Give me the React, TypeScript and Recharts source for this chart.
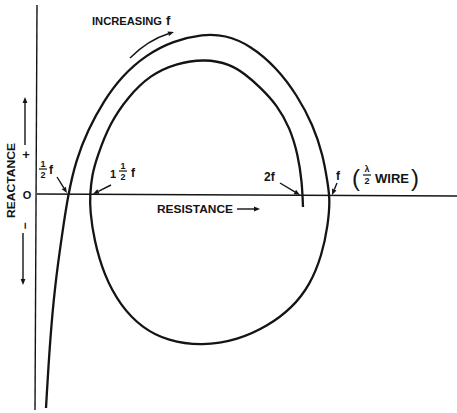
import { LineChart, Line, XAxis, YAxis, ReferenceLine } from "recharts";

// impedance spiral of a wire (arbitrary units)
const resistance = [
  9, 13, 18, 25, 31, 39, 51, 66, 85, 109, 136, 166, 188, 213, 240, 260, 276,
  286, 291, 293, 291, 285, 273, 255, 231, 201, 165, 131, 105, 83, 67, 57, 53,
  53, 55, 60, 73, 91, 113, 140, 168, 193, 208, 223, 240, 253, 261, 265, 266,
];
const reactance = [
  -213, -145, -90, -40, 0, 35, 65, 93, 119, 140, 154, 161, 160, 150, 127, 100,
  70, 40, 10, -5, -30, -60, -90, -113, -131, -145, -151, -146, -133, -110, -80,
  -45, -15, 0, 20, 38, 72, 98, 120, 132, 136, 131, 121, 108, 90, 67, 40, 13,
  -12,
];

const spiral = resistance.map((r, i) => ({ r, x: reactance[i] }));

const INK = "#141414";
const FONT = "'Liberation Sans', Arial, sans-serif";

function Arrow({ x1, y1, x2, y2, cx, cy }: { x1: number; y1: number; x2: number; y2: number; cx?: number; cy?: number }) {
  const fx = cx ?? x1;
  const fy = cy ?? y1;
  const a = Math.atan2(y2 - fy, x2 - fx);
  const len = 6;
  const w = 2.4;
  const bx = x2 - len * Math.cos(a);
  const by = y2 - len * Math.sin(a);
  const pts = `${x2},${y2} ${bx + w * Math.sin(a)},${by - w * Math.cos(a)} ${bx - w * Math.sin(a)},${by + w * Math.cos(a)}`;
  const d = cx !== undefined ? `M${x1},${y1} Q${cx},${cy} ${bx},${by}` : `M${x1},${y1} L${bx},${by}`;
  return (
    <g>
      <path d={d} stroke={INK} strokeWidth={1.4} fill="none" />
      <polygon points={pts} fill={INK} />
    </g>
  );
}

function Half({ x, y, size = 9 }: { x: number; y: number; size?: number }) {
  return (
    <g fontFamily={FONT} fontWeight="bold" fontSize={size} fill={INK} textAnchor="middle">
      <text x={x} y={y - 2}>1</text>
      <line x1={x - 4} x2={x + 4} y1={y} y2={y} stroke={INK} strokeWidth={1.2} />
      <text x={x} y={y + size}>2</text>
    </g>
  );
}

function Notes() {
  return (
    <svg width={457} height={413} style={{ position: "absolute", left: 0, top: 0, pointerEvents: "none" }}>
      <g fontFamily={FONT} fontWeight="bold" fill={INK}>
        <text x={92} y={25} fontSize={11} textLength={70} lengthAdjust="spacingAndGlyphs">INCREASING</text>
        <text x={166} y={25} fontSize={13}>f</text>
        <text x={157} y={213} fontSize={11.5} textLength={76} lengthAdjust="spacingAndGlyphs">RESISTANCE</text>
        <text transform="translate(15,218) rotate(-90)" fontSize={11.5} textLength={75} lengthAdjust="spacingAndGlyphs">REACTANCE</text>
        <text x={26} y={159} fontSize={13} textAnchor="middle">+</text>
        <text x={27} y={199} fontSize={11} textAnchor="middle">O</text>
        <text transform="translate(29,226) rotate(-90)" fontSize={12} textAnchor="middle">−</text>
        <text x={49} y={174} fontSize={12}>f</text>
        <text x={110} y={178} fontSize={11}>1</text>
        <text x={131} y={177} fontSize={12}>f</text>
        <text x={264} y={181} fontSize={12}>2f</text>
        <text x={336} y={180} fontSize={12}>f</text>
        <text x={375} y={183} fontSize={12.5} textLength={34} lengthAdjust="spacingAndGlyphs">WIRE</text>
      </g>
      <g fontFamily={FONT} fill={INK} fontSize={24}>
        <text x={352} y={186}>(</text>
        <text x={411} y={186}>)</text>
      </g>
      <Half x={43} y={169} />
      <Half x={123} y={171} />
      <g fontFamily={FONT} fontWeight="bold" fontSize={9} fill={INK} textAnchor="middle">
        <text x={367} y={172}>λ</text>
        <line x1={363} x2={371} y1={175} y2={175} stroke={INK} strokeWidth={1.2} />
        <text x={367} y={184}>2</text>
      </g>
      <Arrow x1={130} y1={58} cx={148} cy={40} x2={174} y2={32} />
      <Arrow x1={237} y1={209} x2={260} y2={209} />
      <Arrow x1={25} y1={145} x2={25} y2={97} />
      <Arrow x1={23} y1={233} x2={23} y2={285} />
      <Arrow x1={57} y1={177} x2={67} y2={193} />
      <Arrow x1={111} y1={185} x2={93} y2={194} />
      <Arrow x1={280} y1={183} x2={300} y2={195} />
      <Arrow x1={337} y1={183} x2={332} y2={195} />
    </svg>
  );
}

export default function App() {
  return (
    <div style={{ position: "absolute", left: 0, top: 0, width: 457, height: 413, background: "#fff" }}>
      <LineChart width={457} height={413} data={spiral} margin={{ top: 0, right: 0, bottom: 0, left: 0 }}>
        <XAxis type="number" dataKey="r" domain={[-37, 420]} hide allowDataOverflow />
        <YAxis type="number" domain={[-218, 195]} hide allowDataOverflow />
        <ReferenceLine segment={[{ x: 0, y: 190 }, { x: -2, y: -215 }]} stroke={INK} strokeWidth={1.4} />
        <ReferenceLine segment={[{ x: 0, y: 1 }, { x: 420, y: -1 }]} stroke={INK} strokeWidth={1.3} />
        <Line
          dataKey="x"
          type="basis"
          stroke={INK}
          strokeWidth={2.3}
          dot={false}
          activeDot={false}
          isAnimationActive={false}
        />
      </LineChart>
      <Notes />
    </div>
  );
}
